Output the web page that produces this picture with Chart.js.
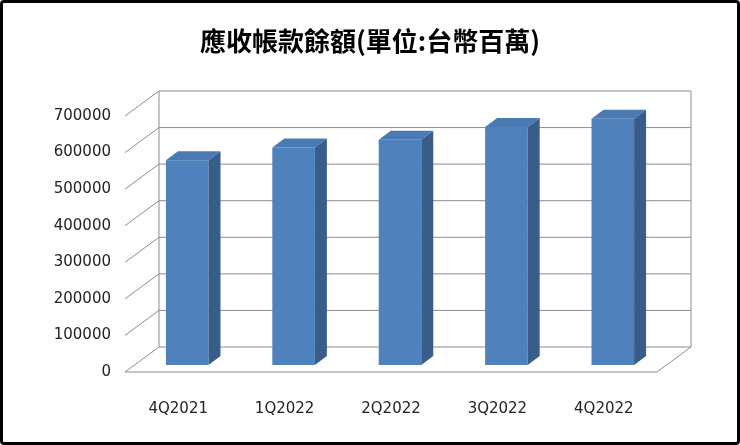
<!DOCTYPE html>
<html><head><meta charset="utf-8">
<script src="https://cdn.jsdelivr.net/npm/chart.js@4"></script>
<style>
html,body{margin:0;padding:0;background:#fff}
#box{width:740px;height:445px;box-sizing:border-box;border:3px solid #000;border-radius:4px;position:relative}
canvas{position:absolute;left:0;top:0}
</style></head><body>
<div id="box"><canvas id="c" width="734" height="439"></canvas></div>
<script>
const categories=['4Q2021','1Q2022','2Q2022','3Q2022','4Q2022'];
const values=[560000,595000,616000,651000,673000];
const yTicks=[0,100000,200000,300000,400000,500000,600000,700000];
const titleText='應收帳款餘額(單位:台幣百萬)';
const DX=34,DY=25,BX=9,BY=-7,DD=12,DH=9;
const threeD={
 id:'threeD',
 beforeDatasetsDraw(ch){
  const c=ch.ctx,y=ch.scales.y,a=ch.chartArea;
  c.save();c.strokeStyle='#8c8c8c';c.lineWidth=1;
  yTicks.forEach(v=>{const p=y.getPixelForValue(v);
   c.beginPath();c.moveTo(a.left,p);c.lineTo(a.left+DX,p-DY);c.lineTo(a.right+DX,p-DY);c.stroke();});
  const b=y.getPixelForValue(0),t=y.getPixelForValue(700000);
  c.beginPath();c.moveTo(a.left,b);c.lineTo(a.right,b);c.lineTo(a.right+DX,b-DY);c.lineTo(a.right+DX,t-DY);c.stroke();
  c.beginPath();c.moveTo(a.left+DX,b-DY);c.lineTo(a.left+DX,t-DY);c.stroke();
  c.restore();
  c.save();c.translate(BX,BY);
 },
 afterDatasetsDraw(ch){
  const c=ch.ctx;
  ch.getDatasetMeta(0).data.forEach(el=>{
   const l=el.x-el.width/2,r=el.x+el.width/2,t=el.y,b=el.base;
   c.fillStyle='#385D8A';c.beginPath();c.moveTo(r,t);c.lineTo(r+DD,t-DH);c.lineTo(r+DD,b-DH);c.lineTo(r,b);c.closePath();c.fill();
   c.fillStyle='#4a7ab4';c.beginPath();c.moveTo(l,t);c.lineTo(l+DD,t-DH);c.lineTo(r+DD,t-DH);c.lineTo(r,t);c.closePath();c.fill();
  });
  c.restore();
 },
 afterDraw(ch){
  const c=ch.ctx;c.save();c.fillStyle='#000';c.font='bold 26px "Noto Sans CJK TC"';
  c.textAlign='center';c.textBaseline='middle';c.fillText(titleText,367,38);c.restore();
 }
};
new Chart(document.getElementById('c'),{
 type:'bar',
 data:{labels:categories,datasets:[{data:values,backgroundColor:'#4F81BD',barPercentage:0.4,categoryPercentage:1}]},
 options:{responsive:false,animation:false,
  layout:{padding:{top:113,right:80,left:0,bottom:0}},
  plugins:{legend:{display:false},tooltip:{enabled:false},title:{display:false}},
  scales:{
   x:{grid:{display:false},border:{display:false},ticks:{color:'#222',font:{family:'DejaVu Sans',size:15},padding:20},afterFit(s){s.height=70;}},
   y:{min:0,max:700000,grid:{display:false},border:{display:false},
     afterBuildTicks(s){s.ticks=yTicks.map(v=>({value:v}));},
     ticks:{color:'#222',font:{family:'DejaVu Sans',size:15},padding:6,callback:v=>String(v)},afterFit(s){s.width=122;}}
  }}
 ,plugins:[threeD]});
</script></body></html>
